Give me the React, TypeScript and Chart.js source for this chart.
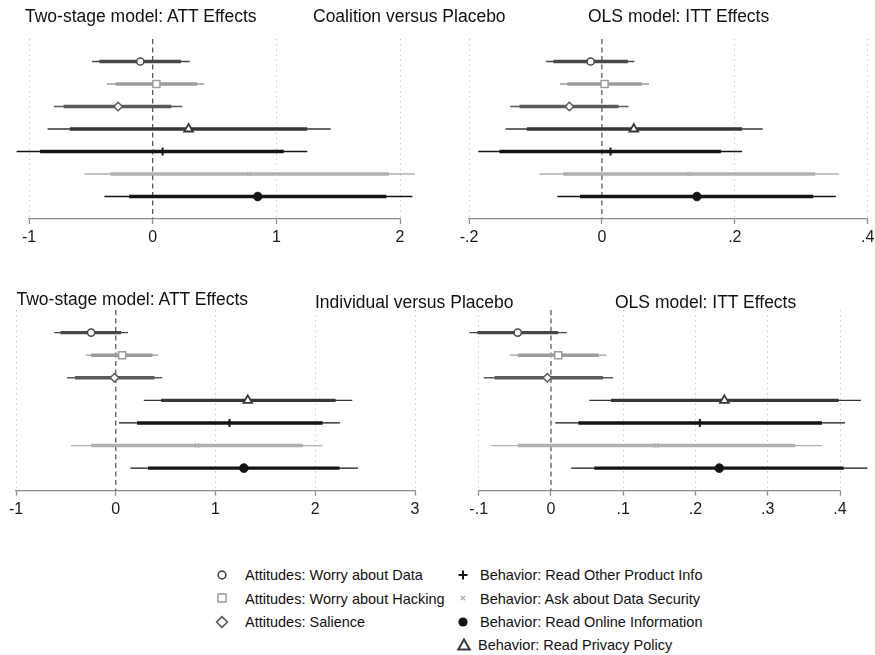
import React, { useEffect, useRef } from "react";
import { Chart, registerables } from "chart.js";

Chart.register(...registerables);

// ---------- data ----------
const rowLabels = [
  "Attitudes: Worry about Data",
  "Attitudes: Worry about Hacking",
  "Attitudes: Salience",
  "Behavior: Read Privacy Policy",
  "Behavior: Read Other Product Info",
  "Behavior: Ask about Data Security",
  "Behavior: Read Online Information",
];

// Coalition versus Placebo — Two-stage model: ATT
const coalAttEst = [-0.1, 0.03, -0.28, 0.29, 0.08, 0.78, 0.85];
const coalAttLo95 = [-0.49, -0.37, -0.8, -0.85, -1.1, -0.55, -0.39];
const coalAttLo90 = [-0.43, -0.3, -0.72, -0.67, -0.91, -0.34, -0.19];
const coalAttHi90 = [0.23, 0.36, 0.15, 1.25, 1.06, 1.91, 1.89];
const coalAttHi95 = [0.3, 0.42, 0.24, 1.44, 1.25, 2.12, 2.1];

// Coalition versus Placebo — OLS model: ITT
const coalIttEst = [-0.017, 0.004, -0.049, 0.048, 0.013, 0.132, 0.143];
const coalIttLo95 = [-0.084, -0.063, -0.138, -0.145, -0.186, -0.094, -0.067];
const coalIttLo90 = [-0.073, -0.052, -0.124, -0.113, -0.154, -0.058, -0.033];
const coalIttHi90 = [0.039, 0.06, 0.025, 0.211, 0.179, 0.321, 0.318];
const coalIttHi95 = [0.049, 0.071, 0.04, 0.242, 0.211, 0.357, 0.352];

// Individual versus Placebo — Two-stage model: ATT
const indAttEst = [-0.247, 0.064, -0.013, 1.324, 1.14, 0.816, 1.284];
const indAttLo95 = [-0.615, -0.3, -0.488, 0.281, 0.033, -0.448, 0.147];
const indAttLo90 = [-0.555, -0.247, -0.408, 0.455, 0.214, -0.247, 0.324];
const indAttHi90 = [0.054, 0.368, 0.388, 2.204, 2.074, 1.873, 2.244];
const indAttHi95 = [0.124, 0.425, 0.465, 2.371, 2.247, 2.074, 2.428];

// Individual versus Placebo — OLS model: ITT
const indIttEst = [-0.046, 0.01, -0.005, 0.24, 0.206, 0.146, 0.233];
const indIttLo95 = [-0.113, -0.057, -0.093, 0.053, 0.006, -0.083, 0.028];
const indIttLo90 = [-0.102, -0.046, -0.078, 0.083, 0.038, -0.046, 0.06];
const indIttHi90 = [0.01, 0.066, 0.072, 0.398, 0.375, 0.338, 0.405];
const indIttHi95 = [0.022, 0.077, 0.086, 0.429, 0.407, 0.375, 0.438];

// axis ranges / ticks
const coalAttTicks = [-1, 2, 1];
const coalIttTicks = [-0.2, 0.4, 0.2];
const indAttTicks = [-1, 3, 1];
const indIttTicks = [-0.1, 0.4, 0.1];

// ---------- styles ----------
const rowColors = ["#484848", "#9c9c9c", "#5a5a5a", "#363636", "#141414", "#b0b0b0", "#141414"];
const pointStyles = ["circle", "rect", "rectRot", "triangle", "cross", "crossRot", "circle"];
const pointFills = ["#ffffff", "#ffffff", "#ffffff", "#ffffff", "#141414", "#b0b0b0", "#141414"];
const pointRadii = [3.6, 5, 4.3, 5, 4, 3, 4.3];
const pointBorders = [1.5, 1.5, 1.5, 1.8, 2, 1.2, 1];

const FONT = "'Liberation Sans', Arial, Helvetica, sans-serif";

const fmtTick = (v: number) => {
  const r = Math.round(v * 1000) / 1000;
  if (r === 0) return "0";
  return String(r).replace(/^(-?)0\./, "$1.");
};

type PanelProps = {
  est: number[];
  lo95: number[];
  lo90: number[];
  hi90: number[];
  hi95: number[];
  ticks: number[];
  box: { left: number; top: number; width: number; height: number };
  area: { left: number; right: number; top: number; axis: number };
};

function Panel({ est, lo95, lo90, hi90, hi95, ticks, box, area }: PanelProps) {
  const ref = useRef<HTMLCanvasElement | null>(null);
  useEffect(() => {
    if (!ref.current) return;
    const AXIS_H = 30;
    const padding = {
      left: area.left - box.left,
      right: box.left + box.width - area.right,
      top: area.top - box.top,
      bottom: box.height - (area.axis - box.top) - AXIS_H,
    };
    const datasets: any[] = [];
    datasets.push({
      data: [
        { x: 0, y: 0 },
        { x: 0, y: 8 },
      ],
      borderColor: "#5a5a5a",
      borderWidth: 1.3,
      borderDash: [5, 3.5],
      pointRadius: 0,
      clip: false,
      order: 4,
    });
    for (let i = 0; i < est.length; i++) {
      const y = i + 1;
      datasets.push({
        label: rowLabels[i] + " 95",
        data: [
          { x: lo95[i], y },
          { x: hi95[i], y },
        ],
        borderColor: rowColors[i],
        borderWidth: 1.3,
        pointRadius: 0,
        clip: false,
        order: 3,
      });
      datasets.push({
        label: rowLabels[i] + " 90",
        data: [
          { x: lo90[i], y },
          { x: hi90[i], y },
        ],
        borderColor: rowColors[i],
        borderWidth: 3.4,
        borderCapStyle: "butt",
        pointRadius: 0,
        clip: false,
        order: 2,
      });
      datasets.push({
        label: rowLabels[i],
        data: [{ x: est[i], y }],
        showLine: false,
        pointStyle: pointStyles[i],
        pointRadius: pointRadii[i],
        pointBorderWidth: pointBorders[i],
        pointBorderColor: rowColors[i],
        pointBackgroundColor: pointFills[i],
        clip: false,
        order: 1,
      });
    }
    const chart = new Chart(ref.current, {
      type: "line",
      data: { datasets },
      options: {
        animation: false,
        responsive: false,
        maintainAspectRatio: false,
        events: [],
        layout: { padding },
        plugins: {
          legend: { display: false },
          tooltip: { enabled: false },
          title: { display: false },
        },
        scales: {
          x: {
            type: "linear",
            min: ticks[0],
            max: ticks[1],
            afterFit: (s: any) => {
              s.height = AXIS_H;
            },
            ticks: {
              stepSize: ticks[2],
              autoSkip: false,
              maxRotation: 0,
              padding: 4,
              color: "#1a1a1a",
              font: { family: FONT, size: 16 },
              callback: (v: any) => fmtTick(Number(v)),
            },
            grid: {
              color: (c: any) =>
                c.tick && Math.abs(c.tick.value) < 1e-9 ? "rgba(0,0,0,0)" : "#bdbdbd",
              lineWidth: 1,
              tickColor: "#8c8c8c",
              tickLength: 5,
              tickWidth: 1.3,
              tickBorderDash: [],
            },
            border: { display: true, color: "#8c8c8c", width: 1.3, dash: [1.2, 4] },
          },
          y: { type: "linear", min: 0, max: 8, reverse: true, display: false },
        },
      } as any,
    });
    return () => chart.destroy();
  }, []);
  return (
    <canvas
      ref={ref}
      width={box.width}
      height={box.height}
      style={{ position: "absolute", left: box.left, top: box.top, width: box.width, height: box.height }}
    />
  );
}

const txt = (s: string, left: number, baseline: number, size: number, extra: any = {}) => (
  <div
    key={s + left + baseline}
    style={{
      position: "absolute",
      left,
      top: baseline - 0.8465 * size,
      fontFamily: FONT,
      fontSize: size,
      lineHeight: 1,
      whiteSpace: "nowrap",
      color: "#111",
      ...extra,
    }}
  >
    {s}
  </div>
);

function Sym({ kind, x, y }: { kind: number; x: number; y: number }) {
  const c = rowColors[kind];
  let el: any = null;
  if (kind === 0) el = <circle cx={8} cy={8} r={3.9} fill="none" stroke={c} strokeWidth={1.6} />;
  if (kind === 1) el = <rect x={4} y={4} width={8} height={8} fill="none" stroke={c} strokeWidth={1.5} />;
  if (kind === 2) el = <polygon points="8,2.6 13.4,8 8,13.4 2.6,8" fill="none" stroke={c} strokeWidth={1.6} />;
  if (kind === 3) el = <polygon points="8,2.5 13.8,12.5 2.2,12.5" fill="none" stroke={c} strokeWidth={1.9} />;
  if (kind === 4)
    el = (
      <g stroke={c} strokeWidth={2}>
        <line x1={8} y1={3.5} x2={8} y2={12.5} />
        <line x1={3.5} y1={8} x2={12.5} y2={8} />
      </g>
    );
  if (kind === 5)
    el = (
      <g stroke={c} strokeWidth={1.3}>
        <line x1={5.8} y1={5.8} x2={10.2} y2={10.2} />
        <line x1={10.2} y1={5.8} x2={5.8} y2={10.2} />
      </g>
    );
  if (kind === 6) el = <circle cx={8} cy={8} r={4.6} fill={c} />;
  return (
    <svg width={16} height={16} style={{ position: "absolute", left: x - 8, top: y - 8 }}>
      {el}
    </svg>
  );
}

export default function App() {
  const legendLeft = [0, 1, 2];
  const legendRight = [4, 5, 6, 3];
  const rowBase = [580.5, 603.8, 627.2, 650.5];
  return (
    <div
      style={{
        position: "absolute",
        left: 0,
        top: 0,
        width: 875,
        height: 655,
        overflow: "hidden",
        background: "#ffffff",
      }}
    >
      <Panel
        est={coalAttEst}
        lo95={coalAttLo95}
        lo90={coalAttLo90}
        hi90={coalAttHi90}
        hi95={coalAttHi95}
        ticks={coalAttTicks}
        box={{ left: 0, top: 0, width: 440, height: 260 }}
        area={{ left: 29, right: 400, top: 39, axis: 219 }}
      />
      <Panel
        est={coalIttEst}
        lo95={coalIttLo95}
        lo90={coalIttLo90}
        hi90={coalIttHi90}
        hi95={coalIttHi95}
        ticks={coalIttTicks}
        box={{ left: 440, top: 0, width: 460, height: 260 }}
        area={{ left: 469, right: 867.7, top: 39, axis: 219 }}
      />
      <Panel
        est={indAttEst}
        lo95={indAttLo95}
        lo90={indAttLo90}
        hi90={indAttHi90}
        hi95={indAttHi95}
        ticks={indAttTicks}
        box={{ left: 0, top: 270, width: 440, height: 270 }}
        area={{ left: 16, right: 415, top: 310, axis: 490.7 }}
      />
      <Panel
        est={indIttEst}
        lo95={indIttLo95}
        lo90={indIttLo90}
        hi90={indIttHi90}
        hi95={indIttHi95}
        ticks={indIttTicks}
        box={{ left: 440, top: 270, width: 460, height: 270 }}
        area={{ left: 478.7, right: 840, top: 310, axis: 490.7 }}
      />

      {txt("Two-stage model: ATT Effects", 25, 23.3, 17.5)}
      {txt("Coalition versus Placebo", 313, 23.3, 17.5)}
      {txt("OLS model: ITT Effects", 588, 23.3, 17.5)}
      {txt("Two-stage model: ATT Effects", 16.5, 306, 17.5)}
      {txt("Individual versus Placebo", 315, 309.3, 17.5)}
      {txt("OLS model: ITT Effects", 615, 309.3, 17.5)}

      {legendLeft.map((k, i) => (
        <React.Fragment key={"l" + k}>
          <Sym kind={k} x={222} y={rowBase[i] - 5.5} />
          {txt(rowLabels[k], 245, rowBase[i], 14.5)}
        </React.Fragment>
      ))}
      {legendRight.map((k, i) => (
        <React.Fragment key={"r" + k}>
          <Sym kind={k} x={i === 3 ? 464 : 463} y={rowBase[i] - 5.5} />
          {txt(rowLabels[k], i === 3 ? 478 : 480, rowBase[i], 14.5)}
        </React.Fragment>
      ))}
    </div>
  );
}
